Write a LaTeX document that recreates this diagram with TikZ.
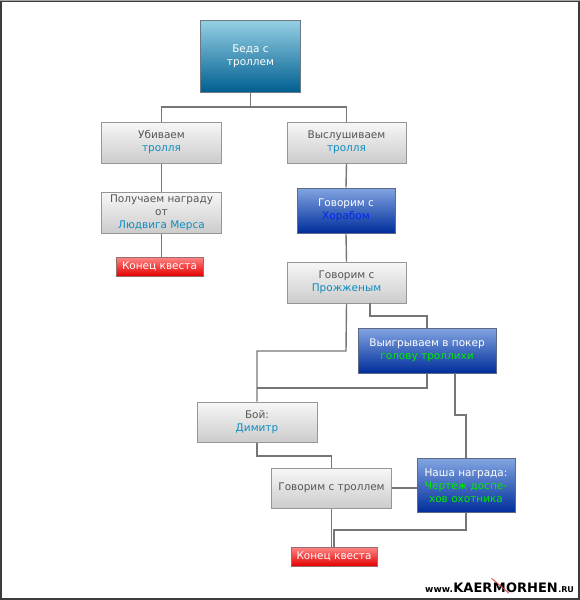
\documentclass[tikz,border=0pt]{standalone}
\usepackage{fontspec}
\setmainfont{DejaVu Sans}
\usetikzlibrary{calc}
\definecolor{ln}{RGB}{118,118,118}
\definecolor{gtop}{RGB}{247,247,247}
\definecolor{gbot}{RGB}{204,204,204}
\definecolor{gbord}{RGB}{150,150,150}
\definecolor{gtext}{RGB}{85,85,85}
\definecolor{cyantext}{RGB}{15,140,190}
\definecolor{btop}{RGB}{130,165,225}
\definecolor{bbot}{RGB}{0,45,155}
\definecolor{bbord}{RGB}{95,105,135}
\definecolor{ttop}{RGB}{150,208,228}
\definecolor{tmid}{RGB}{0,152,192}
\definecolor{tbot}{RGB}{0,95,145}
\definecolor{tbord}{RGB}{110,120,130}
\definecolor{rtop}{RGB}{255,135,135}
\definecolor{rbot}{RGB}{228,0,0}
\definecolor{rbord}{RGB}{150,110,110}
\definecolor{hblue}{RGB}{0,40,240}
\definecolor{hgreen}{RGB}{0,235,0}
\definecolor{frame}{RGB}{60,60,60}
\definecolor{slash}{RGB}{220,60,60}
\begin{document}
\begin{tikzpicture}[x=1pt,y=-1pt,
  box/.style={rectangle, inner sep=0pt, align=center,
    font=\fontsize{10.5}{13}\selectfont, line width=1pt},
  graybox/.style={box, draw=gbord, top color=gtop, bottom color=gbot, text=gtext},
  bluebox/.style={box, draw=bbord, top color=btop, bottom color=bbot, text=white},
  tealbox/.style={box, draw=tbord, top color=ttop, middle color=tmid, bottom color=tbot, text=white},
  redbox/.style={box, draw=rbord, top color=rtop, bottom color=rbot, text=white},
  conn/.style={draw=ln, line width=1.4pt},
  logopart/.style={inner sep=0pt, font=\bfseries, anchor=base west},
  sz/.style 2 args={minimum width=#1pt, minimum height=#2pt}]
\useasboundingbox (0,0) rectangle (580,600);
\draw[frame, line width=2pt] (1,1) rectangle (579,599);
\draw[gray!70, line width=1pt] (0,0.5) -- (580,0.5);

\node[tealbox, sz={100}{72}] (beda) at (250.5,56) {Беда с\\троллем};
\node[graybox, sz={120}{41}] (ubiv) at (161.5,142.5) {Убиваем\\\textcolor{cyantext}{тролля}};
\node[graybox, sz={119}{41}] (vysl) at (346.5,142.5) {Выслушиваем\\\textcolor{cyantext}{тролля}};
\node[graybox, sz={120}{41}] (poluch) at (161.5,212.5) {Получаем награду\\от\\\textcolor{cyantext}{Людвига Мерса}};
\node[redbox, sz={87}{19}] (end1) at (159.5,266.5) {Конец квеста};
\node[bluebox, sz={98}{45}] (horab) at (346,210.5) {Говорим с\\\textcolor{hblue}{Хорабом}};
\node[graybox, sz={119}{41}] (prozh) at (346.5,282.5) {Говорим с\\\textcolor{cyantext}{Прожженым}};
\node[bluebox, sz={138}{45}] (poker) at (427,350.5) {Выигрываем в покер\\\textcolor{hgreen}{голову троллихи}};
\node[graybox, sz={120}{40}] (boy) at (257,422) {Бой:\\\textcolor{cyantext}{Димитр}};
\node[graybox, sz={120}{40}] (govtr) at (331.5,488) {Говорим с троллем};
\node[bluebox, sz={98}{54}] (nasha) at (466,485.5) {Наша награда:\\\textcolor{hgreen}{Чертеж доспе-}\\\textcolor{hgreen}{хов охотника}};
\node[redbox, sz={86}{19}] (end2) at (334,556.5) {Конец квеста};

\coordinate (j1) at (250.5,107);
\draw[conn] (beda.south) -- (j1);
\draw[conn] (ubiv.north) -- (ubiv.north |- j1) -- (vysl.north |- j1) -- (vysl.north);
\draw[conn] (ubiv.south) -- (poluch.north);
\draw[conn] (poluch.south) -- (poluch.south |- end1.north);
\draw[conn] (vysl.south) -- (horab.north);
\draw[conn] (horab.south) -- (prozh.north);

\coordinate (j2) at (346,351);
\draw[conn] (prozh.south) -- (j2) -- (boy.north |- j2) -- (boy.north);
\coordinate (p1) at (370,303);
\coordinate (j3) at (370,316);
\draw[conn] (p1) -- (j3) -- (poker.north |- j3) -- (poker.north);

\coordinate (j4) at (427,388);
\draw[conn] (poker.south) -- (j4) -- (boy.north |- j4);
\coordinate (p2) at (455,373);
\coordinate (j5) at (455,415);
\draw[conn] (p2) -- (j5) -- (nasha.north |- j5) -- (nasha.north);

\coordinate (j6) at (257,456);
\draw[conn] (boy.south) -- (j6) -- (govtr.north |- j6) -- (govtr.north);
\draw[conn] (govtr.east) -- (govtr.east -| nasha.west);
\draw[conn] (govtr.south) -- (govtr.south |- end2.north);
\coordinate (j7) at (466,530);
\draw[conn] (nasha.south) -- (j7) -- (end2.north |- j7) -- (end2.north);

\node[logopart, font=\bfseries\fontsize{9}{9}\selectfont] (lw) at (425,592) {www.};
\node[logopart, font=\bfseries\fontsize{13}{13}\selectfont] (lk) at (lw.base east) {KAER};
\node[logopart, font=\bfseries\fontsize{13}{13}\selectfont] (lm) at (lk.base east) {M};
\node[logopart, font=\bfseries\fontsize{13}{13}\selectfont] (lo) at (lm.base east) {ORHEN};
\node[logopart, font=\bfseries\fontsize{8}{8}\selectfont] (lr) at (lo.base east) {.RU};
\draw[slash, line width=0.8pt] ($(lm.north west)+(-1,-4)$) -- ($(lm.south east)+(3,1)$);
\end{tikzpicture}
\end{document}
